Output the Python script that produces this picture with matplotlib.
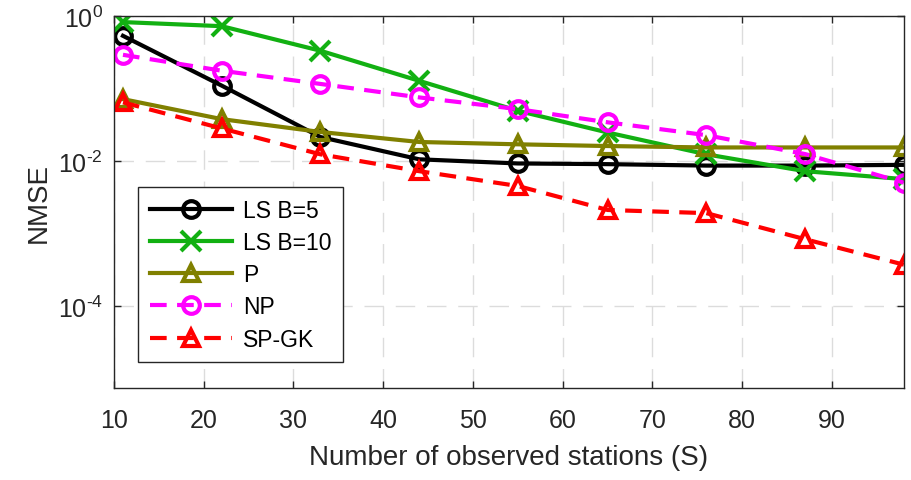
import numpy as np
import matplotlib
matplotlib.use('Agg')
import matplotlib.pyplot as plt
from matplotlib.ticker import FuncFormatter

plt.rcParams['font.family'] = ['Liberation Sans', 'DejaVu Sans']
plt.rcParams['mathtext.fontset'] = 'custom'
plt.rcParams['mathtext.rm'] = 'Liberation Sans'
plt.rcParams['mathtext.it'] = 'Liberation Sans'

# number of observed stations
S = [11, 22, 33, 44, 55, 65, 76, 87, 98]

# NMSE for each method
ls_b5 = [0.53, 0.109, 0.0213, 0.0105, 0.0092, 0.0090, 0.0086, 0.0086, 0.0088]
ls_b10 = [0.82, 0.72, 0.33, 0.127, 0.049, 0.0246, 0.0123, 0.0072, 0.0056]
p_est = [0.071, 0.0376, 0.025, 0.0182, 0.0169, 0.0160, 0.0153, 0.0153, 0.0153]
np_est = [0.29, 0.175, 0.115, 0.075, 0.0517, 0.034, 0.0226, 0.0124, 0.0050]
spgk = [0.064, 0.028, 0.0123, 0.0072, 0.0045, 0.0021, 0.0019, 0.00083, 0.00037]

fig = plt.figure(figsize=(9.12, 4.81), dpi=100)
ax = fig.add_axes([0.125, 0.191, 0.866, 0.774])

lw = 3.0
ms = 12
dash = (4, 2.5)
ax.semilogy(S, ls_b5, '-o', color='k', lw=lw, ms=ms, mew=lw, mfc='none', label='LS B=5')
ax.semilogy(S, ls_b10, '-x', color='#12b012', lw=lw, ms=ms + 2, mew=lw, label='LS B=10')
ax.semilogy(S, p_est, '-^', color='#808000', lw=lw, ms=ms, mew=lw, mfc='none', label='P')
ax.semilogy(S, np_est, '--o', color='#ff00ff', lw=lw, ms=ms, mew=lw, mfc='none',
            dashes=dash, label='NP')
ax.semilogy(S, spgk, '--^', color='#ff0000', lw=lw, ms=ms, mew=lw, mfc='none',
            dashes=dash, label='SP-GK')

ax.set_xlim(10, 98)
ax.set_ylim(10 ** -5.135, 1)
ax.set_xticks(np.arange(10, 91, 10))
ax.set_yticks([1e-4, 1e-2, 1e0])
ax.minorticks_off()
# 10^-2 style labels with a plain hyphen
ax.yaxis.set_major_formatter(FuncFormatter(
    lambda v, pos: r'$10^{\text{%d}}$' % int(round(np.log10(v)))))

ax.grid(True, color='#dcdcdc', ls=(0, (14, 8.5)), lw=1.0)
ax.set_axisbelow(True)
for sp in ax.spines.values():
    sp.set_color('#262626')
    sp.set_linewidth(1.0)
ax.tick_params(direction='in', top=True, right=True, length=5, width=1.0,
               labelsize=18, colors='#262626', pad=8)
ax.tick_params(axis='x', pad=14)

ax.set_xlabel('Number of observed stations (S)', fontsize=20, color='#262626', labelpad=9)
ax.set_ylabel('NMSE', fontsize=20, color='#262626', labelpad=4)

leg = ax.legend(loc='lower left', bbox_to_anchor=(0.031, 0.07), borderaxespad=0,
                fontsize=16.5, handlelength=3.6, labelspacing=0.4, borderpad=0.5,
                handletextpad=0.45, fancybox=False, framealpha=1)
leg.get_frame().set_edgecolor('#262626')
leg.get_frame().set_linewidth(1.0)

fig.savefig('out.png', dpi=100)
